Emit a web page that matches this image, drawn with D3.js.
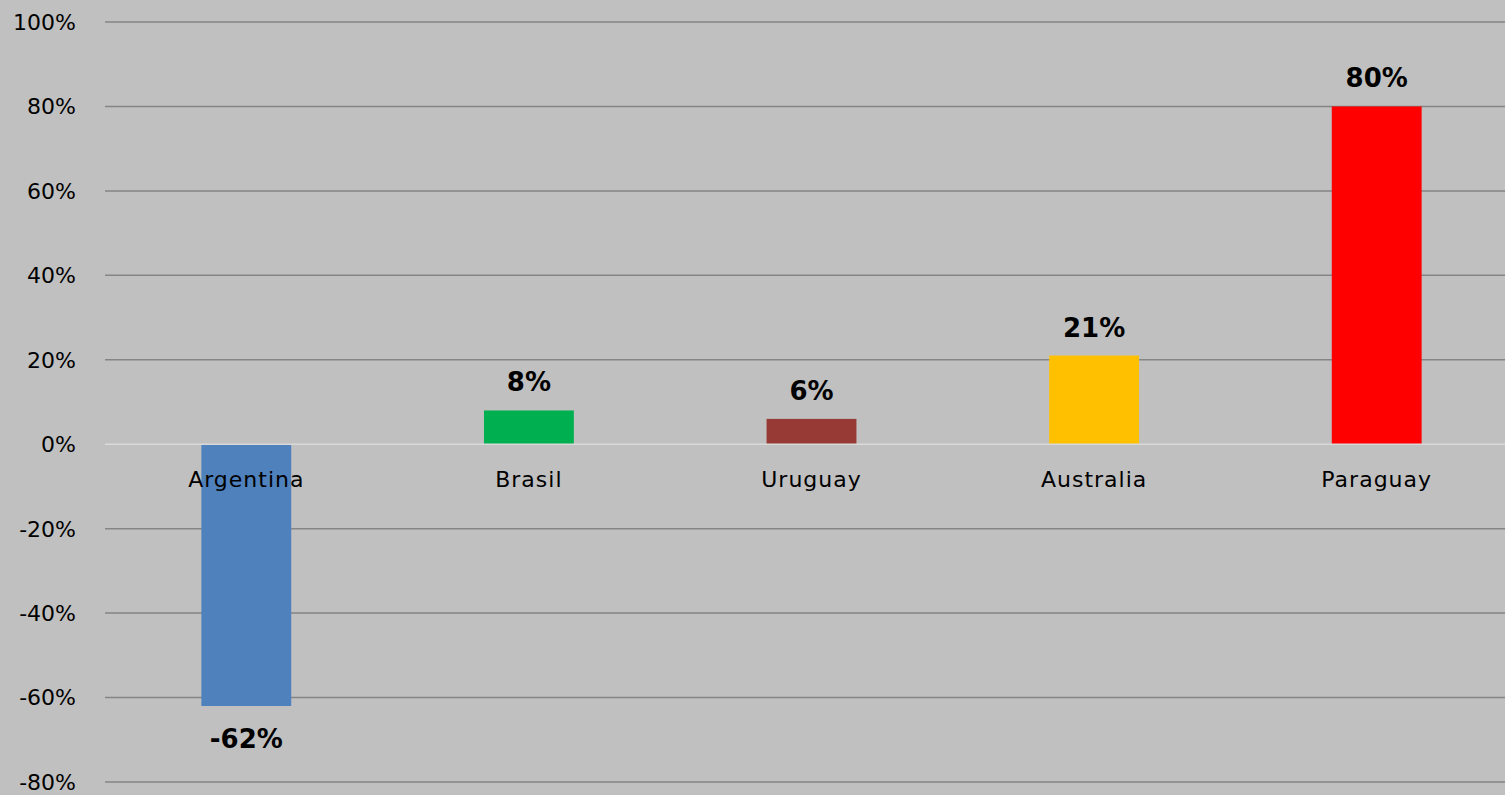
<!DOCTYPE html>
<html>
<head>
<meta charset="utf-8">
<script src="https://cdn.jsdelivr.net/npm/d3@7"></script>
<style>
  html, body { margin: 0; padding: 0; background: #c0c0c0; overflow: hidden; }
  svg { display: block; }
  text { font-family: "DejaVu Sans", Verdana, sans-serif; fill: #000; }
</style>
</head>
<body>
<svg id="chart" width="1505" height="795"></svg>
<script>
// ── Data ──────────────────────────────────────────────────────────────────────
const countries = ['Argentina', 'Brasil', 'Uruguay', 'Australia', 'Paraguay'];
const values    = [-62, 8, 6, 21, 80];
const colors    = ['#4f81bd', '#00b050', '#973a36', '#ffc000', '#ff0000'];
const yTicks    = [100, 80, 60, 40, 20, 0, -20, -40, -60, -80];

// ── Layout ────────────────────────────────────────────────────────────────────
const W = 1505, H = 795;
const plot = { left: 105, right: 1518, top: 22, bottom: 782 };

const svg = d3.select('#chart');

const x = d3.scaleBand()
  .domain(countries)
  .range([plot.left, plot.right])
  .paddingInner(0.682)
  .paddingOuter(0.341);

const y = d3.scaleLinear()
  .domain([-80, 100])
  .range([plot.bottom, plot.top]);

// gridlines (zero line drawn later, on top of bars)
svg.append('g')
  .selectAll('line')
  .data(yTicks.filter(t => t !== 0))
  .join('line')
  .attr('x1', plot.left).attr('x2', W)
  .attr('y1', d => y(d)).attr('y2', d => y(d))
  .attr('stroke', '#858585')
  .attr('stroke-width', 1.5);

// y tick labels
svg.append('g')
  .selectAll('text')
  .data(yTicks)
  .join('text')
  .attr('x', 76)
  .attr('y', d => y(d))
  .attr('dy', '0.36em')
  .attr('text-anchor', 'end')
  .style('font-size', '22px')
  .text(d => d + '%');

const data = countries.map((c, i) => ({ name: c, value: values[i], color: colors[i] }));

// bars
svg.append('g')
  .selectAll('rect')
  .data(data)
  .join('rect')
  .attr('x', d => x(d.name))
  .attr('width', x.bandwidth())
  .attr('y', d => y(Math.max(0, d.value)))
  .attr('height', d => Math.abs(y(d.value) - y(0)))
  .attr('fill', d => d.color);

// zero line
svg.append('line')
  .attr('x1', plot.left).attr('x2', W)
  .attr('y1', y(0)).attr('y2', y(0))
  .attr('stroke', '#d9d9d9')
  .attr('stroke-width', 1.5);

// category labels
svg.append('g')
  .selectAll('text')
  .data(data)
  .join('text')
  .attr('x', d => x(d.name) + x.bandwidth() / 2)
  .attr('y', y(0) + 43)
  .attr('text-anchor', 'middle')
  .style('font-size', '22px')
  .style('letter-spacing', '1px')
  .text(d => d.name);

// value labels
svg.append('g')
  .selectAll('text')
  .data(data)
  .join('text')
  .attr('x', d => x(d.name) + x.bandwidth() / 2)
  .attr('y', d => d.value >= 0 ? y(d.value) - 19 : y(d.value) + 42)
  .attr('text-anchor', 'middle')
  .style('font-size', '26px')
  .style('font-weight', 'bold')
  .text(d => d.value + '%');
</script>
</body>
</html>
